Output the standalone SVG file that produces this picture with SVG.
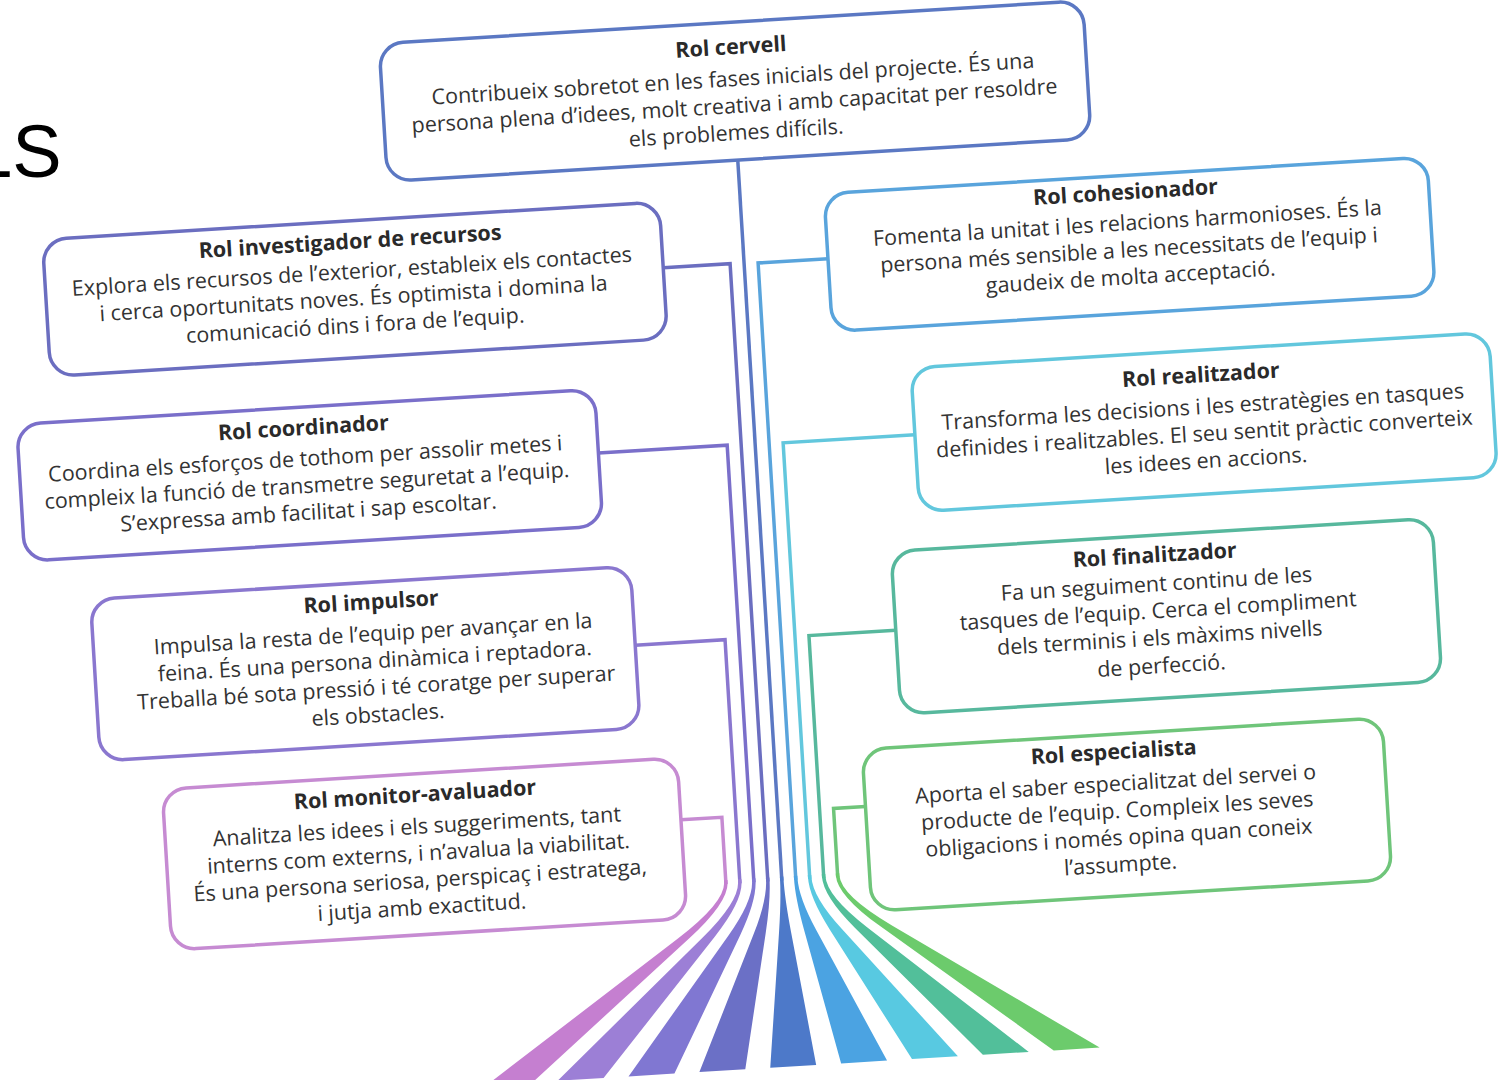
<svg xmlns="http://www.w3.org/2000/svg" width="1499" height="1080" viewBox="0 0 1499 1080">
<style>
.box{fill:#fff;stroke-width:3.5}
.t{font-family:"Open Sans","Noto Sans",sans-serif;font-size:21.5px;fill:#333;text-anchor:middle}
.h{font-weight:700;fill:#2a2a2a}
.ln{fill:none;stroke-width:3.5;stroke-linejoin:miter}
</style>
<rect width="1499" height="1080" fill="#fff"/>
<text x="-29" y="177" font-family="Liberation Sans, Arial, sans-serif" font-size="74" fill="#000">LS</text>
<g transform="rotate(-3.5 750 540)">
<g id="connectors">
<path class="ln" stroke="#5b78c3" d="M761,158 V882"/>
<path class="ln" stroke="#6b6ec0" d="M680,263 H747 V882"/>
<path class="ln" stroke="#7a6fca" d="M604,444 H733 V882"/>
<path class="ln" stroke="#8a77cf" d="M629,638 H719 V882"/>
<path class="ln" stroke="#c68bd2" d="M664,815 H705 V882"/>
<path class="ln" stroke="#59a4dc" d="M845,264 H775 V882"/>
<path class="ln" stroke="#62c7dd" d="M921,445 H789 V882"/>
<path class="ln" stroke="#57b89d" d="M890,639 H803 V882"/>
<path class="ln" stroke="#6fc57a" d="M849,813 H817 V882"/>
<path fill="#c57fd0" d="M703.25,878 L703.25,880 Q703.25,900 653.4,933.6 L454,1068 L500,1068 L665.4,933.6 Q706.75,900 706.75,880 L706.75,878 Z"/>
<path fill="#9c7fd6" d="M717.25,878 L717.25,880 Q717.25,900 678.8,933.6 L525,1068 L571,1068 L690.8,933.6 Q720.75,900 720.75,880 L720.75,878 Z"/>
<path fill="#8077d2" d="M731.25,878 L731.25,880 Q731.25,900 704.2,933.6 L596,1068 L642,1068 L716.2,933.6 Q734.75,900 734.75,880 L734.75,878 Z"/>
<path fill="#6b70c6" d="M745.25,878 L745.25,880 Q745.25,900 729.6,933.6 L667,1068 L713,1068 L741.6,933.6 Q748.75,900 748.75,880 L748.75,878 Z"/>
<path fill="#4d79c9" d="M759.25,878 L759.25,880 Q759.25,900 755,933.6 L738,1068 L784,1068 L767,933.6 Q762.75,900 762.75,880 L762.75,878 Z"/>
<path fill="#4ba3e2" d="M773.25,878 L773.25,880 Q773.25,900 780.4,933.6 L809,1068 L855,1068 L792.4,933.6 Q776.75,900 776.75,880 L776.75,878 Z"/>
<path fill="#58c9e1" d="M787.25,878 L787.25,880 Q787.25,900 805.8,933.6 L880,1068 L926,1068 L817.8,933.6 Q790.75,900 790.75,880 L790.75,878 Z"/>
<path fill="#52bf9a" d="M801.25,878 L801.25,880 Q801.25,900 831.2,933.6 L951,1068 L997,1068 L843.2,933.6 Q804.75,900 804.75,880 L804.75,878 Z"/>
<path fill="#6ccb6c" d="M815.25,878 L815.25,880 Q815.25,900 856.6,933.6 L1022,1068 L1068,1068 L868.6,933.6 Q818.75,900 818.75,880 L818.75,878 Z"/>
</g>
<g id="cervell">
<rect class="box" stroke="#5b78c3" x="410" y="22" width="705" height="138" rx="24"/>
<text class="t h" x="761" y="54">Rol cervell</text>
<text class="t" x="761" y="86">Contribueix sobretot en les fases inicials del projecte. És una</text>
<text class="t" x="761" y="113">persona plena d’idees, molt creativa i amb capacitat per resoldre</text>
<text class="t" x="761" y="140">els problemes difícils.</text>
</g>
<g id="investigador">
<rect class="box" stroke="#6b6ec0" x="62" y="197" width="618" height="137" rx="24"/>
<text class="t h" x="369" y="225">Rol investigador de recursos</text>
<text class="t" x="369" y="255">Explora els recursos de l’exterior, estableix els contactes</text>
<text class="t" x="369" y="282">i cerca oportunitats noves. És optimista i domina la</text>
<text class="t" x="369" y="309">comunicació dins i fora de l’equip.</text>
</g>
<g id="coordinador">
<rect class="box" stroke="#7a6fca" x="25" y="380" width="579" height="137" rx="24"/>
<text class="t h" x="311" y="408">Rol coordinador</text>
<text class="t" x="311" y="439">Coordina els esforços de tothom per assolir metes i</text>
<text class="t" x="311" y="466">compleix la funció de transmetre seguretat a l’equip.</text>
<text class="t" x="311" y="493">S’expressa amb facilitat i sap escoltar.</text>
</g>
<g id="impulsor">
<rect class="box" stroke="#8a77cf" x="88" y="559" width="541" height="162" rx="24"/>
<text class="t h" x="368" y="586">Rol impulsor</text>
<text class="t" x="368" y="618">Impulsa la resta de l’equip per avançar en la</text>
<text class="t" x="368" y="645">feina. És una persona dinàmica i reptadora.</text>
<text class="t" x="368" y="672">Treballa bé sota pressió i té coratge per superar</text>
<text class="t" x="368" y="699">els obstacles.</text>
</g>
<g id="monitor">
<rect class="box" stroke="#c68bd2" x="148" y="753" width="516" height="161" rx="24"/>
<text class="t h" x="400" y="781">Rol monitor-avaluador</text>
<text class="t" x="400" y="813">Analitza les idees i els suggeriments, tant</text>
<text class="t" x="400" y="840">interns com externs, i n’avalua la viabilitat.</text>
<text class="t" x="400" y="867">És una persona seriosa, perspicaç i estratega,</text>
<text class="t" x="400" y="894">i jutja amb exactitud.</text>
</g>
<g id="cohesionador">
<rect class="box" stroke="#59a4dc" x="845" y="199" width="604" height="138" rx="24"/>
<text class="t h" x="1146" y="223">Rol cohesionador</text>
<text class="t" x="1146" y="254">Fomenta la unitat i les relacions harmonioses. És la</text>
<text class="t" x="1146" y="281">persona més sensible a les necessitats de l’equip i</text>
<text class="t" x="1146" y="308">gaudeix de molta acceptació.</text>
</g>
<g id="realitzador">
<rect class="box" stroke="#62c7dd" x="921" y="378" width="579" height="144" rx="24"/>
<text class="t h" x="1210" y="410">Rol realitzador</text>
<text class="t" x="1210" y="442">Transforma les decisions i les estratègies en tasques</text>
<text class="t" x="1210" y="469">definides i realitzables. El seu sentit pràctic converteix</text>
<text class="t" x="1210" y="496">les idees en accions.</text>
</g>
<g id="finalitzador">
<rect class="box" stroke="#57b89d" x="890" y="560" width="542" height="163" rx="24"/>
<text class="t h" x="1153" y="587">Rol finalitzador</text>
<text class="t" x="1153" y="616">Fa un seguiment continu de les</text>
<text class="t" x="1153" y="643">tasques de l’equip. Cerca el compliment</text>
<text class="t" x="1153" y="670">dels terminis i els màxims nivells</text>
<text class="t" x="1153" y="698">de perfecció.</text>
</g>
<g id="especialista">
<rect class="box" stroke="#6fc57a" x="849" y="756" width="521" height="162" rx="24"/>
<text class="t h" x="1100" y="781">Rol especialista</text>
<text class="t" x="1100" y="813">Aporta el saber especialitzat del servei o</text>
<text class="t" x="1100" y="840">producte de l’equip. Compleix les seves</text>
<text class="t" x="1100" y="867">obligacions i només opina quan coneix</text>
<text class="t" x="1100" y="894">l’assumpte.</text>
</g>
</g>
</svg>
